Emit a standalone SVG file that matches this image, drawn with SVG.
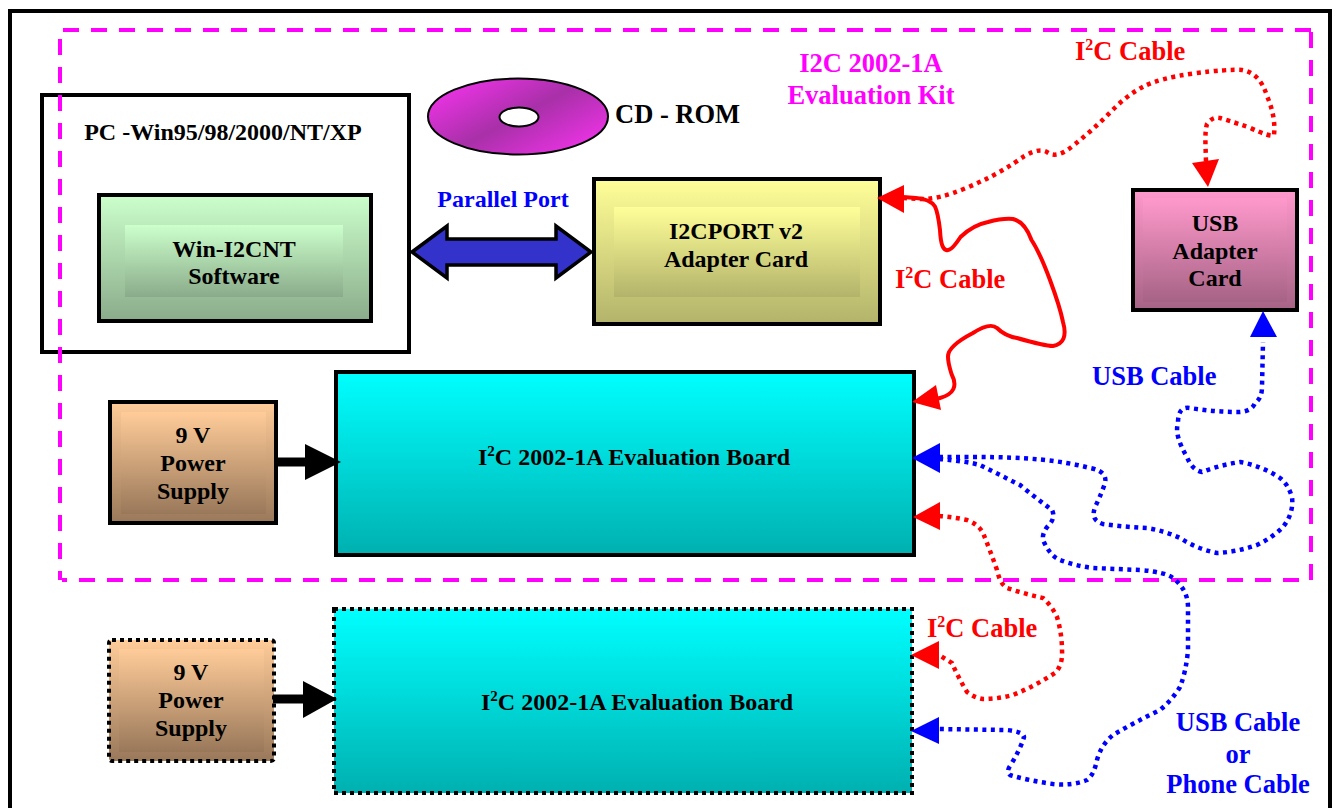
<svg xmlns="http://www.w3.org/2000/svg" width="1336" height="808" viewBox="0 0 1336 808">
<style>
text{font-family:"Liberation Serif","Times New Roman",serif;font-weight:bold}
.t{font-size:24px;fill:#000;text-anchor:middle}
.l{font-size:26.5px}
.m{text-anchor:middle}
.red{fill:#f00}.blue{fill:#00f}.mag{fill:#f0f}
.box{stroke:#000;stroke-width:4}
.dot{stroke:#000;stroke-width:4;stroke-dasharray:4 4}
.kit{fill:none;stroke:#f0f;stroke-width:4;stroke-dasharray:16 12}
.cable{fill:none;stroke-width:4}
.dc{stroke-width:4.500;stroke-dasharray:4 4.500}
.sr{stroke:#f00}.sb{stroke:#00f}
</style>
<defs>
<linearGradient id="gGreen" x1="0" y1="0" x2="0" y2="1"><stop offset="0" stop-color="#ccffcc"/><stop offset="1" stop-color="#8aab8a"/></linearGradient>
<linearGradient id="gYellow" x1="0" y1="0" x2="0" y2="1"><stop offset="0" stop-color="#ffff99"/><stop offset="1" stop-color="#b3b36b"/></linearGradient>
<linearGradient id="gPink" x1="0" y1="0" x2="0" y2="1"><stop offset="0" stop-color="#ff99cc"/><stop offset="1" stop-color="#a66385"/></linearGradient>
<linearGradient id="gBrown" x1="0" y1="0" x2="0" y2="1"><stop offset="0" stop-color="#ffcc99"/><stop offset="1" stop-color="#99785a"/></linearGradient>
<linearGradient id="gCyan" x1="0" y1="0" x2="0" y2="1"><stop offset="0" stop-color="#00ffff"/><stop offset="1" stop-color="#00b0b0"/></linearGradient>
<linearGradient id="gDisc" x1="0" y1="0.1" x2="1" y2="0.9"><stop offset="0" stop-color="#f633ee"/><stop offset="0.5" stop-color="#a830a8"/><stop offset="1" stop-color="#f633ee"/></linearGradient>
</defs>
<rect id="frame" x="10" y="11" width="1320" height="820" fill="#fff" stroke="#000" stroke-width="4"/>
<g id="pc"><rect x="42" y="95" width="367" height="257" fill="#fff" class="box"/>
<text x="223" y="140" class="t">PC -Win95/98/2000/NT/XP</text></g>
<g id="kit-outline">
<path class="kit" d="M63 30H1311"/><path class="kit" d="M1311 32V580"/><path class="kit" d="M1299 580H62"/><path class="kit" d="M60 39V580"/>
<text x="871" y="72" class="l m mag">I2C 2002-1A</text><text x="871" y="104" class="l m mag">Evaluation Kit</text></g>
<g id="win-i2cnt"><rect x="99" y="195" width="272" height="126" fill="url(#gGreen)" class="box"/><rect x="125" y="225" width="218" height="72" fill="url(#gGreen)"/>
<text x="234" y="257" class="t">Win-I2CNT</text><text x="234" y="284" class="t">Software</text></g>
<g id="cd-rom"><ellipse cx="518" cy="116.500" rx="90" ry="38" fill="url(#gDisc)" stroke="#000" stroke-width="2"/><ellipse cx="519" cy="117" rx="19.500" ry="9.500" fill="#fff" stroke="#000" stroke-width="2"/>
<text x="615" y="123" class="l">CD - ROM</text></g>
<g id="i2cport"><rect x="594" y="179" width="286" height="145" fill="url(#gYellow)" class="box"/><rect x="614" y="207" width="246" height="90" fill="url(#gYellow)"/>
<text x="736" y="239" class="t">I2CPORT v2</text><text x="736" y="267" class="t">Adapter Card</text></g>
<g id="usb-adapter"><rect x="1133" y="190" width="164" height="120" fill="url(#gPink)" class="box"/><rect x="1143" y="198" width="144" height="104" fill="url(#gPink)"/>
<text x="1215" y="231" class="t">USB</text><text x="1215" y="259" class="t">Adapter</text><text x="1215" y="286" class="t">Card</text></g>
<g id="power-1"><rect x="110" y="402" width="166" height="121" fill="url(#gBrown)" class="box"/><rect x="121" y="412" width="145" height="102" fill="url(#gBrown)"/>
<text x="193" y="443" class="t">9 V</text><text x="193" y="471" class="t">Power</text><text x="193" y="499" class="t">Supply</text></g>
<g id="board-1"><rect x="336" y="372" width="578" height="183" fill="url(#gCyan)" class="box"/>
<text x="478" y="465" font-size="24"><tspan>I</tspan><tspan font-size="15" dy="-9">2</tspan><tspan dy="9">C 2002-1A Evaluation Board</tspan></text></g>
<g id="power-2"><rect x="109" y="640" width="165" height="121" rx="3" fill="url(#gBrown)" class="dot"/><rect x="119" y="649" width="145" height="103" fill="url(#gBrown)"/>
<text x="191" y="680" class="t">9 V</text><text x="191" y="708" class="t">Power</text><text x="191" y="736" class="t">Supply</text></g>
<g id="board-2"><rect x="334" y="609" width="578" height="184" fill="url(#gCyan)" class="dot"/>
<text x="481" y="710" font-size="24"><tspan>I</tspan><tspan font-size="15" dy="-9">2</tspan><tspan dy="9">C 2002-1A Evaluation Board</tspan></text></g>
<g id="connectors">
<path d="M412 252L447 226V239H556V226L591 252L556 278V265H447V278Z" fill="#3333cc" stroke="#000" stroke-width="3.500"/>
<path d="M278 462H306" stroke="#000" stroke-width="9"/><path d="M305 444L341 462L305 480Z" fill="#000"/>
<path d="M273 699H304" stroke="#000" stroke-width="9"/><path d="M303 681L337 699L303 718Z" fill="#000"/>
<path class="cable dc sr" d="M903 198L920 199Q937 200 965 188.500Q993 177 1015 162.500Q1037 146 1047 152Q1057 160 1075 144Q1093 130 1110 112.500Q1127 95 1143.500 86.500Q1160 78 1193.500 73.500Q1227 69 1242 70Q1260 73 1267 96Q1276 117 1274 135Q1272 138 1249.500 127.500Q1227 120 1220 118Q1213 116 1207 124Q1205 130 1205.500 145L1206 162"/>
<path class="cable sr" d="M903 197L916 198Q930 199 935 206.500Q938 213 940 230Q941 252 948 250Q952 250 960.500 237Q973 225 988 222Q1003 218 1013 219Q1025 222 1031.500 240Q1040 253 1050 280Q1060 307 1063 322Q1069 343 1053 346Q1045 346 1017 338Q1005 336 997 328Q990 322 973 333Q948 346 948 356.500Q948 363 951.500 374Q961 392 940 398L925 402"/>
<path class="cable dc sb" d="M939 457L976 457Q1013 457 1040 459.500Q1067 462 1090 468Q1110 472 1104 486Q1100 497 1096 505Q1089 520 1103 524Q1125 527 1147 528Q1165 531 1180 538Q1197 549 1217 553Q1237 552 1257 545Q1272 538 1283 527Q1294 513 1292 497Q1288 484 1280 478Q1262 466 1240 462Q1220 465 1202 472Q1192 470 1187 457Q1174 435 1178 423Q1178 406 1190 408Q1215 412 1240 412Q1252 411 1255 403Q1262 398 1262 387L1263 342"/>
<path class="cable dc sb" d="M939 459Q965 461 980 465Q1000 475 1020 485Q1036 498 1052 510Q1056 518 1048 526Q1042 533 1043 540Q1050 556 1060 560Q1076 566 1093 568L1140 570Q1165 572 1173 578Q1188 590 1188 607L1188 650Q1186 672 1180 687Q1172 700 1160 710Q1135 722 1113 735Q1101 745 1097 760Q1094 775 1087 780Q1072 786 1053 784Q1030 781 1010 775Q1006 772 1010 766Q1020 750 1024 737Q1024 732 1007 730L939 729"/>
<path class="cable dc sr" d="M939 516Q953 517 967 520Q978 524 983 533Q990 550 997 570Q1000 584 1007 588Q1025 594 1043 598Q1052 606 1057 617Q1062 634 1062 650Q1063 665 1055 673Q1035 686 1013 695Q998 699 983 699Q975 698 967 692Q958 677 952 663L939 655"/>
<path d="M877 198L904 185V213Z" fill="#f00"/>
<path d="M1208 187L1192 163L1219 159Z" fill="#f00"/>
<path d="M912 402L936 385L941 410Z" fill="#f00"/>
<path d="M913 517L940 502V530Z" fill="#f00"/>
<path d="M911 655L939 641V669Z" fill="#f00"/>
<path d="M912 458L940 443V473Z" fill="#00f"/>
<path d="M1263 311L1250 337H1277Z" fill="#00f"/>
<path d="M911 731L939 717V744Z" fill="#00f"/>
</g>
<g id="labels">
<text x="503" y="207" font-size="24" class="m blue">Parallel Port</text>
<text x="1075" y="60" class="l red">I<tspan font-size="16" dy="-10">2</tspan><tspan dy="10">C Cable</tspan></text>
<text x="895" y="288" class="l red">I<tspan font-size="16" dy="-10">2</tspan><tspan dy="10">C Cable</tspan></text>
<text x="927" y="637" class="l red">I<tspan font-size="16" dy="-10">2</tspan><tspan dy="10">C Cable</tspan></text>
<text x="1092" y="385" class="l blue">USB Cable</text>
<text x="1238" y="731" class="l m blue">USB Cable</text><text x="1238" y="763" class="l m blue">or</text><text x="1238" y="793" class="l m blue">Phone Cable</text>
</g>
</svg>
